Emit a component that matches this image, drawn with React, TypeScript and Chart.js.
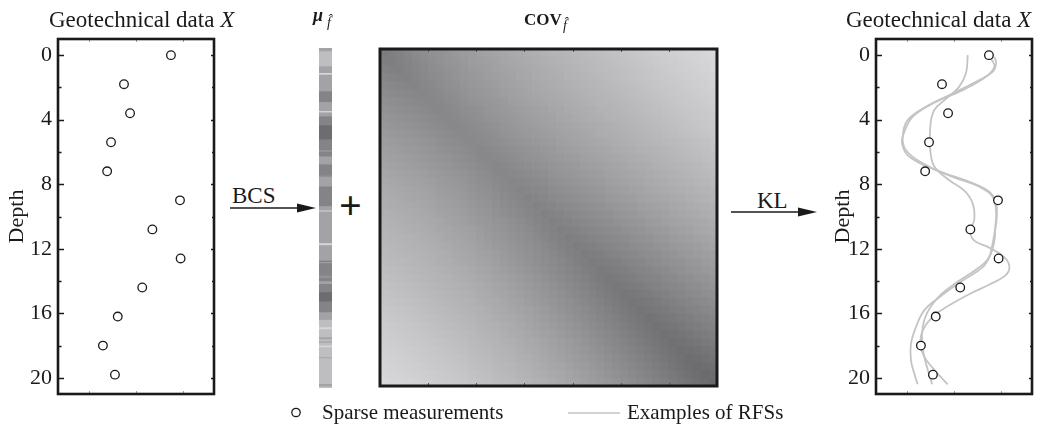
import React, { useEffect, useRef } from "react";
import { Chart, registerables } from "chart.js";

Chart.register(...registerables);

const FONT = '"Liberation Serif", "Times New Roman", Times, serif';
const INK = "#1a1a1a";

// ---------- data ----------
const depthTickValues = [0, 4, 8, 12, 16, 20];
const depthMinorTicks = [2, 6, 10, 14, 18];
const valueFrameTicks = [2, 5, 8];

const measureDepth = [0, 1.8, 3.6, 5.4, 7.2, 9, 10.8, 12.6, 14.4, 16.2, 18, 19.8];
const measureValue = [7.24, 4.23, 4.62, 3.4, 3.15, 7.82, 6.05, 7.86, 5.4, 3.83, 2.88, 3.65];

const rfs1Depth = [0, 1.1, 2, 2.7, 3.4, 4.4, 5.9, 6.9, 7.75, 8.4, 9.2, 10.2, 10.9, 11.5, 11.9, 12.5, 13.1, 13.65, 14.2, 14.8, 15.5, 16.2, 17.06, 17.9, 18.7, 19.5, 20.4];
const rfs1Value = [5.88, 5.77, 5.3, 4.5, 3.74, 3.48, 3.48, 3.74, 4.7, 5.66, 6.2, 6.3, 6.05, 6.3, 7.2, 8.2, 8.55, 8.3, 7.3, 6.0, 4.7, 3.65, 3.0, 2.85, 3.1, 3.74, 4.6];

const rfs2Depth = [0.1, 0.5, 1.03, 1.65, 2.38, 3.2, 4.03, 5.06, 5.89, 6.7, 7.54, 8.16, 8.78, 9.8, 10.66, 11.5, 12.3, 13.14, 13.96, 15.0, 15.8, 16.86, 17.9, 18.9, 19.75, 20.4];
const rfs2Value = [7.59, 7.7, 7.48, 6.41, 4.91, 3.2, 2.03, 1.71, 1.92, 3.0, 4.91, 6.62, 7.48, 7.7, 7.65, 7.59, 7.37, 6.84, 5.56, 4.06, 3.1, 2.56, 2.24, 2.24, 2.46, 2.67];

const rfs3Depth = [0.2, 0.72, 1.34, 2.17, 3.0, 3.82, 4.75, 5.48, 6.3, 7.13, 7.85, 8.47, 9.2, 10.2, 11.0, 11.8, 12.6, 13.3, 14.0, 14.8, 15.6, 16.4, 17.3, 18.2, 19.1, 20.4];
const rfs3Value = [7.37, 7.59, 7.05, 5.56, 3.63, 2.35, 1.82, 1.67, 2.14, 3.85, 5.98, 7.26, 7.7, 7.73, 7.6, 7.45, 7.2, 6.4, 5.3, 4.2, 3.5, 3.1, 2.95, 3.0, 3.2, 3.6];

// posterior mean strip: band lengths (top to bottom) and shade level (0 light .. 5 dark)
const muBandLength = [9, 45, 20, 5, 50, 32, 27, 4, 12, 27, 42, 33, 3, 15, 24, 33, 5, 28, 59, 13, 3, 95, 6, 46, 5, 3, 37, 7, 10, 8, 25, 28, 32, 23, 22, 6, 24, 6, 6, 4, 9, 5, 30, 3, 77, 7, 6];
const muBandLevel = [2, 1, 2, 0, 2, 4, 2, 0, 2, 4, 5, 4, 2, 4, 2, 4, 3, 2, 4, 2, 0, 2, 0, 2, 4, 2, 4, 3, 4, 2, 4, 5, 4, 2, 1, 0, 1, 2, 1, 2, 1, 0, 1, 2, 1, 2, 1];
const muShades = ["#d6d6d8", "#bebec1", "#a3a3a7", "#929296", "#848488", "#6d6d71"];

// posterior covariance: value by lag and scale by depth cell
const covLag = [1.0, 0.98, 0.96, 0.935, 0.91, 0.885, 0.86, 0.835, 0.81, 0.785, 0.76, 0.735, 0.71, 0.685, 0.66, 0.64, 0.615, 0.59, 0.57, 0.55, 0.525, 0.505, 0.485, 0.465, 0.445, 0.425, 0.405, 0.385, 0.365, 0.345, 0.325, 0.305, 0.29, 0.27, 0.25, 0.235, 0.22, 0.2, 0.185, 0.17, 0.155, 0.14];
const covScale = [1.0, 0.99, 0.98, 0.97, 0.96, 0.955, 0.95, 0.95, 0.945, 0.945, 0.94, 0.94, 0.945, 0.945, 0.95, 0.95, 0.955, 0.96, 0.965, 0.97, 0.975, 0.98, 0.985, 0.99, 0.995, 1.0, 1.005, 1.01, 1.015, 1.02, 1.025, 1.03, 1.035, 1.04, 1.045, 1.05, 1.055, 1.06, 1.065, 1.07, 1.075, 1.08];

// ---------- helpers ----------
function covColor(v: number) {
  const g = Math.max(0, Math.min(255, Math.round(232 - 108 * v)));
  return `rgb(${g},${g},${g + 3})`;
}

const depthFrame = {
  id: "depthFrame",
  afterDatasetsDraw(chart: any) {
    const { ctx, chartArea: a, scales } = chart;
    const y = scales.y;
    const x = scales.x;
    ctx.save();
    ctx.strokeStyle = INK;
    ctx.lineWidth = 1.4;
    ctx.beginPath();
    for (const v of depthTickValues) {
      const py = Math.round(y.getPixelForValue(v)) + 0.5;
      ctx.moveTo(a.left, py);
      ctx.lineTo(a.left + 6, py);
      ctx.moveTo(a.right, py);
      ctx.lineTo(a.right - 3, py);
    }
    for (const v of depthMinorTicks) {
      const py = Math.round(y.getPixelForValue(v)) + 0.5;
      ctx.moveTo(a.left, py);
      ctx.lineTo(a.left + 3.5, py);
      ctx.moveTo(a.right, py);
      ctx.lineTo(a.right - 2, py);
    }
    ctx.stroke();
    ctx.strokeStyle = "#9a9a9a";
    ctx.lineWidth = 1;
    ctx.beginPath();
    for (const v of valueFrameTicks) {
      const px = Math.round(x.getPixelForValue(v)) + 0.5;
      ctx.moveTo(px, a.bottom);
      ctx.lineTo(px, a.bottom - 3);
      ctx.moveTo(px, a.top);
      ctx.lineTo(px, a.top + 3);
    }
    ctx.stroke();
    ctx.strokeStyle = INK;
    ctx.lineWidth = 2.6;
    ctx.strokeRect(a.left, a.top, a.right - a.left, a.bottom - a.top);
    ctx.restore();
  },
};

const covFrame = {
  id: "covFrame",
  afterDatasetsDraw(chart: any) {
    const { ctx, chartArea: a } = chart;
    ctx.save();
    ctx.strokeStyle = "#555";
    ctx.lineWidth = 1;
    ctx.beginPath();
    const w = a.right - a.left;
    for (let k = 1; k < 7; k++) {
      const px = Math.round(a.left + (w * k) / 7) + 0.5;
      ctx.moveTo(px, a.top);
      ctx.lineTo(px, a.top + 3);
      ctx.moveTo(px, a.bottom);
      ctx.lineTo(px, a.bottom - 3);
    }
    ctx.stroke();
    ctx.strokeStyle = INK;
    ctx.lineWidth = 3;
    ctx.strokeRect(a.left, a.top, a.right - a.left, a.bottom - a.top);
    ctx.restore();
  },
};

function zip(d: number[], v: number[]) {
  return d.map((dd, i) => ({ x: v[i], y: dd }));
}

function depthChartConfig(withCurves: boolean, axisWidth: number, titlePad: number, padRight: number): any {
  const datasets: any[] = [
    {
      label: "Sparse measurements",
      data: zip(measureDepth, measureValue),
      showLine: false,
      pointRadius: 4.3,
      pointBorderWidth: 1.3,
      pointBackgroundColor: "#ffffff",
      pointBorderColor: INK,
    },
  ];
  if (withCurves) {
    const curves = [
      [rfs1Depth, rfs1Value],
      [rfs2Depth, rfs2Value],
      [rfs3Depth, rfs3Value],
    ];
    curves.forEach(([d, v], i) => {
      datasets.push({
        label: `RFS ${i + 1}`,
        data: zip(d, v),
        showLine: true,
        tension: 0.4,
        pointRadius: 0,
        borderColor: "#c4c4c4",
        borderWidth: 1.8,
        fill: false,
      });
    });
  }
  return {
    type: "scatter",
    data: { datasets },
    plugins: [depthFrame],
    options: {
      animation: false,
      responsive: false,
      maintainAspectRatio: false,
      events: [],
      layout: { padding: { top: 39, bottom: 38, left: 0, right: padRight } },
      plugins: { legend: { display: false }, tooltip: { enabled: false } },
      scales: {
        x: { type: "linear", min: 0, max: 10, display: false },
        y: {
          type: "linear",
          reverse: true,
          min: -1,
          max: 21,
          afterBuildTicks: (s: any) => {
            s.ticks = depthTickValues.map((v) => ({ value: v }));
          },
          afterFit: (s: any) => {
            s.width = axisWidth;
          },
          grid: { display: false, drawTicks: false },
          border: { display: false },
          ticks: { font: { family: FONT, size: 22 }, color: INK, padding: 6 },
          title: {
            display: true,
            text: "Depth",
            font: { family: FONT, size: 22 },
            color: INK,
            padding: { top: titlePad, bottom: 0 },
          },
        },
      },
    },
  };
}

function muChartConfig(): any {
  const total = muBandLength.reduce((s, v) => s + v, 0);
  return {
    type: "bar",
    data: {
      labels: ["mu"],
      datasets: muBandLength.map((len, i) => ({
        label: `band ${i + 1}`,
        data: [len],
        backgroundColor: muShades[muBandLevel[i]],
        borderWidth: 0,
        barPercentage: 1,
        categoryPercentage: 1,
        stack: "mu",
      })),
    },
    options: {
      animation: false,
      responsive: false,
      maintainAspectRatio: false,
      events: [],
      layout: { padding: 0 },
      plugins: { legend: { display: false }, tooltip: { enabled: false } },
      scales: {
        x: { display: false, stacked: true },
        y: { display: false, stacked: true, min: 0, max: total, reverse: true },
      },
    },
  };
}

function covChartConfig(): any {
  const n = covScale.length;
  return {
    type: "bar",
    data: {
      labels: covScale.map((_, j) => String(j + 1)),
      datasets: covScale.map((si, i) => ({
        label: `row ${i + 1}`,
        data: covScale.map(() => 1),
        backgroundColor: covScale.map((sj, j) => covColor(si * sj * covLag[Math.abs(i - j)])),
        borderWidth: 0,
        barPercentage: 1,
        categoryPercentage: 1,
        stack: "cov",
      })),
    },
    plugins: [covFrame],
    options: {
      animation: false,
      responsive: false,
      maintainAspectRatio: false,
      events: [],
      layout: { padding: 2 },
      plugins: { legend: { display: false }, tooltip: { enabled: false } },
      scales: {
        x: { display: false, stacked: true },
        y: { display: false, stacked: true, min: 0, max: n, reverse: true },
      },
    },
  };
}

function ChartBox({ left, top, width, height, make }: any) {
  const ref = useRef<HTMLCanvasElement>(null);
  useEffect(() => {
    const chart = new Chart(ref.current as HTMLCanvasElement, make());
    return () => chart.destroy();
  }, []);
  return (
    <canvas
      ref={ref}
      width={width}
      height={height}
      style={{ position: "absolute", left, top, width, height }}
    />
  );
}

function Txt({ x, base, size, children, style }: any) {
  return (
    <div
      style={{
        position: "absolute",
        left: x,
        top: base - 0.8375 * size,
        fontSize: size,
        lineHeight: 1,
        whiteSpace: "nowrap",
        fontFamily: FONT,
        color: INK,
        ...style,
      }}
    >
      {children}
    </div>
  );
}

export default function App() {
  return (
    <div
      style={{
        position: "absolute",
        left: 0,
        top: 0,
        width: 1046,
        height: 432,
        background: "#ffffff",
        overflow: "hidden",
        fontFamily: FONT,
      }}
    >
      <ChartBox left={0} top={0} width={230} height={432} make={() => depthChartConfig(false, 58, 4, 16)} />
      <ChartBox left={820} top={0} width={226} height={432} make={() => depthChartConfig(true, 56, 10, 14)} />
      <ChartBox left={319} top={48} width={13} height={340} make={muChartConfig} />
      <ChartBox left={378} top={47} width={341} height={341} make={covChartConfig} />

      <Txt x={49} base={27} size={23}>
        Geotechnical data <i>X</i>
      </Txt>
      <Txt x={846} base={27} size={23}>
        Geotechnical data <i>X</i>
      </Txt>

      <Txt x={313} base={21} size={18} style={{ fontWeight: "bold", fontStyle: "italic" }}>
        μ
      </Txt>
      <Txt x={327} base={28} size={14} style={{ fontStyle: "italic" }}>
        f̂
      </Txt>
      <Txt x={524} base={25} size={17} style={{ fontWeight: "bold" }}>
        COV
      </Txt>
      <Txt x={563} base={31} size={14} style={{ fontStyle: "italic" }}>
        f̂
      </Txt>

      <Txt x={232} base={203} size={23}>
        BCS
      </Txt>
      <Txt x={757} base={208} size={23}>
        KL
      </Txt>
      <Txt x={339} base={219} size={40} style={{ fontWeight: "bold" }}>
        +
      </Txt>

      <svg
        width={1046}
        height={432}
        style={{ position: "absolute", left: 0, top: 0, pointerEvents: "none" }}
      >
        <line x1={230} y1={208} x2={302} y2={208} stroke={INK} strokeWidth={1.6} />
        <polygon points="316,208 297,203.5 297,212.5" fill={INK} />
        <line x1={731} y1={212} x2={803} y2={212} stroke={INK} strokeWidth={1.6} />
        <polygon points="817,212 798,207.5 798,216.5" fill={INK} />
        <circle cx={296} cy={412.5} r={4.2} fill="#fff" stroke={INK} strokeWidth={1.3} />
        <line x1={568} y1={413} x2={620} y2={413} stroke="#c4c4c4" strokeWidth={1.6} />
      </svg>

      <Txt x={322} base={420} size={21}>
        Sparse measurements
      </Txt>
      <Txt x={627} base={420} size={21}>
        Examples of RFSs
      </Txt>
    </div>
  );
}
